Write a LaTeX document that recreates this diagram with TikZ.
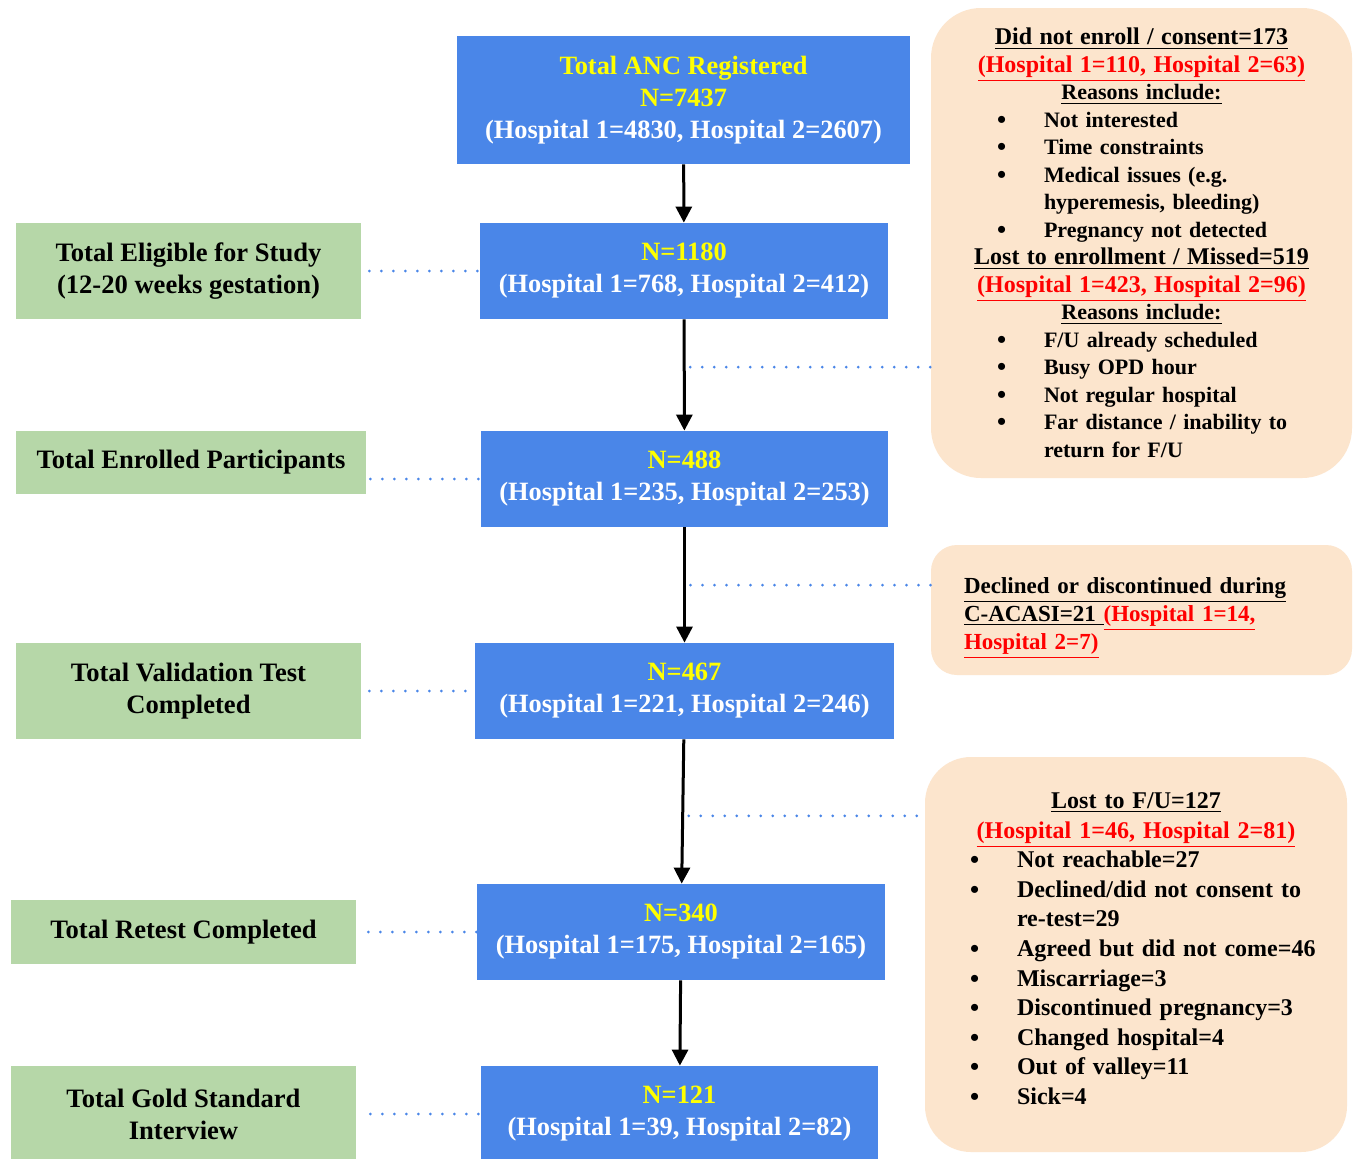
\documentclass[tikz,border=0pt]{standalone}
\usepackage{fontspec}
\setmainfont{Liberation Serif}
\usetikzlibrary{arrows.meta}
\definecolor{boxblue}{HTML}{4A86E8}
\definecolor{boxgreen}{HTML}{B6D7A8}
\definecolor{boxpeach}{HTML}{FCE5CD}
\definecolor{numyellow}{HTML}{FFFF00}
\newcommand{\reasondot}{\smash{\raisebox{-0.5pt}{\fontsize{13}{13}\selectfont\textbullet}}}
\newcommand{\reasonitem}[2][33pt]{\makebox[\linewidth][l]{\hspace*{#1}\makebox[23.5pt][l]{\reasondot}#2}}
\newcommand{\reasonmore}[2][33pt]{\makebox[\linewidth][l]{\hspace*{#1}\hspace*{23.5pt}#2}}
\newcommand{\redline}[1]{\textcolor{red}{\underline{#1}}}
\newcommand{\bigline}[1]{{\fontsize{12}{13.75}\selectfont #1}}

\begin{document}
\begin{tikzpicture}[x=0.5pt,y=-0.5pt,
	flowbox/.style={fill=boxblue,text=white,align=center,inner sep=0pt,minimum height=48pt,font=\bfseries\fontsize{13.2}{16}\selectfont},
	stagebox/.style={fill=boxgreen,text=black,align=center,inner sep=0pt,minimum width=172.5pt,minimum height=48pt,font=\bfseries\fontsize{13.3}{16}\selectfont},
	dropbox/.style={fill=boxpeach,text=black,inner sep=0pt,font=\bfseries\fontsize{11}{13.75}\selectfont},
	flow/.style={line width=1.5pt,-{Triangle[length=8pt,width=8pt]}},
	link/.style={boxblue,line width=1.5pt,line cap=round,dash pattern=on 0pt off 6pt}]
	\path[use as bounding box,fill=white] (0,0) rectangle (1354,1158);
	% main flow
	\node[flowbox,minimum width=226.5pt,minimum height=64pt] (anc) at (683.5,100)
		{\textcolor{numyellow}{Total ANC Registered}\\\textcolor{numyellow}{N=7437}\\(Hospital 1=4830, Hospital 2=2607)};
	\node[flowbox,minimum width=204pt] (n1180) at (684,271)
		{\textcolor{numyellow}{N=1180}\\(Hospital 1=768, Hospital 2=412)};
	\node[flowbox,minimum width=203.5pt] (n488) at (684.5,479)
		{\textcolor{numyellow}{N=488}\\(Hospital 1=235, Hospital 2=253)};
	\node[flowbox,minimum width=209.5pt] (n467) at (684.5,691)
		{\textcolor{numyellow}{N=467}\\(Hospital 1=221, Hospital 2=246)};
	\node[flowbox,minimum width=204pt] (n340) at (681,932)
		{\textcolor{numyellow}{N=340}\\(Hospital 1=175, Hospital 2=165)};
	\node[flowbox,minimum width=198.5pt] (n121) at (679.5,1114)
		{\textcolor{numyellow}{N=121}\\(Hospital 1=39, Hospital 2=82)};
	% stages
	\node[stagebox] (eligible) at (188.5,271) {Total Eligible for Study\\(12-20 weeks gestation)};
	\node[stagebox,minimum width=175pt,minimum height=31.5pt] (enrolled) at (191,462.5) {Total Enrolled Participants};
	\node[stagebox] (validation) at (188.5,691) {Total Validation Test\\Completed};
	\node[stagebox,minimum height=32pt] (retest) at (183.5,932) {Total Retest Completed};
	\node[stagebox] (gold) at (183.5,1114) {Total Gold Standard\\Interview};
	% drop-outs
	\node[dropbox,rounded corners=25pt,text width=210.5pt,minimum height=235pt,align=center] (drop1) at (1141.5,243) {%
		\bigline{\underline{Did not enroll / consent=173}}\\
		\bigline{\redline{(Hospital 1=110, Hospital 2=63)}}\\
		\underline{Reasons include:}\\
		\reasonitem{Not interested}\\
		\reasonitem{Time constraints}\\
		\reasonitem{Medical issues (e.g.}\\
		\reasonmore{hyperemesis, bleeding)}\\
		\reasonitem{Pregnancy not detected}\\
		\bigline{\underline{Lost to enrollment / Missed=519}}\\
		\bigline{\redline{(Hospital 1=423, Hospital 2=96)}}\\
		\underline{Reasons include:}\\
		\reasonitem{F/U already scheduled}\\
		\reasonitem{Busy OPD hour}\\
		\reasonitem{Not regular hospital}\\
		\reasonitem{Far distance / inability to}\\
		\reasonmore{return for F/U}};
	\node[dropbox,rounded corners=13pt,inner xsep=16.5pt,text width=177.5pt,minimum height=65pt,align=left,font=\bfseries\fontsize{11.5}{14}\selectfont] (drop2) at (1141.5,610) {%
		\rule{0pt}{16pt}\underline{Declined or discontinued during}\\
		\underline{C-ACASI=21 }\redline{(Hospital 1=14,}\\
		\redline{Hospital 2=7)}};
	\node[dropbox,rounded corners=23pt,text width=211pt,minimum height=197.5pt,align=center,font=\bfseries\fontsize{12}{14.8}\selectfont] (drop3) at (1136,954.5) {%
		\underline{Lost to F/U=127}\\
		\redline{(Hospital 1=46, Hospital 2=81)}\\
		\reasonitem[22.5pt]{Not reachable=27}\\
		\reasonitem[22.5pt]{Declined/did not consent to}\\
		\reasonmore[22.5pt]{re-test=29}\\
		\reasonitem[22.5pt]{Agreed but did not come=46}\\
		\reasonitem[22.5pt]{Miscarriage=3}\\
		\reasonitem[22.5pt]{Discontinued pregnancy=3}\\
		\reasonitem[22.5pt]{Changed hospital=4}\\
		\reasonitem[22.5pt]{Out of valley=11}\\
		\reasonitem[22.5pt]{Sick=4}\rule[-6pt]{0pt}{1pt}};
	% arrows
	\draw[flow] (anc) -- (n1180);
	\draw[flow] (n1180) -- coordinate[pos=0.43] (gap1) (n488);
	\draw[flow] (n488) -- coordinate[pos=0.5] (gap2) (n467);
	\draw[flow] (n467) -- coordinate[pos=0.53] (gap3) (n340);
	\draw[flow] (n340) -- (n121);
	% dotted links
	\draw[link,shorten <=4pt] (eligible) -- (n1180);
	\draw[link,shorten <=2pt] (enrolled.east |- n488) -- (n488);
	\draw[link,shorten <=4pt] (validation) -- (n467);
	\draw[link,shorten <=6pt] (retest) -- (n340);
	\draw[link,shorten <=7pt] (gold) -- (n121);
	\draw[link,shorten <=3pt] (gap1) -- (drop1.west |- gap1);
	\draw[link,shorten <=3pt] (gap2) -- (drop2.west |- gap2);
	\draw[link,shorten <=3pt] (gap3) -- (drop3.west |- gap3);
\end{tikzpicture}
\end{document}
